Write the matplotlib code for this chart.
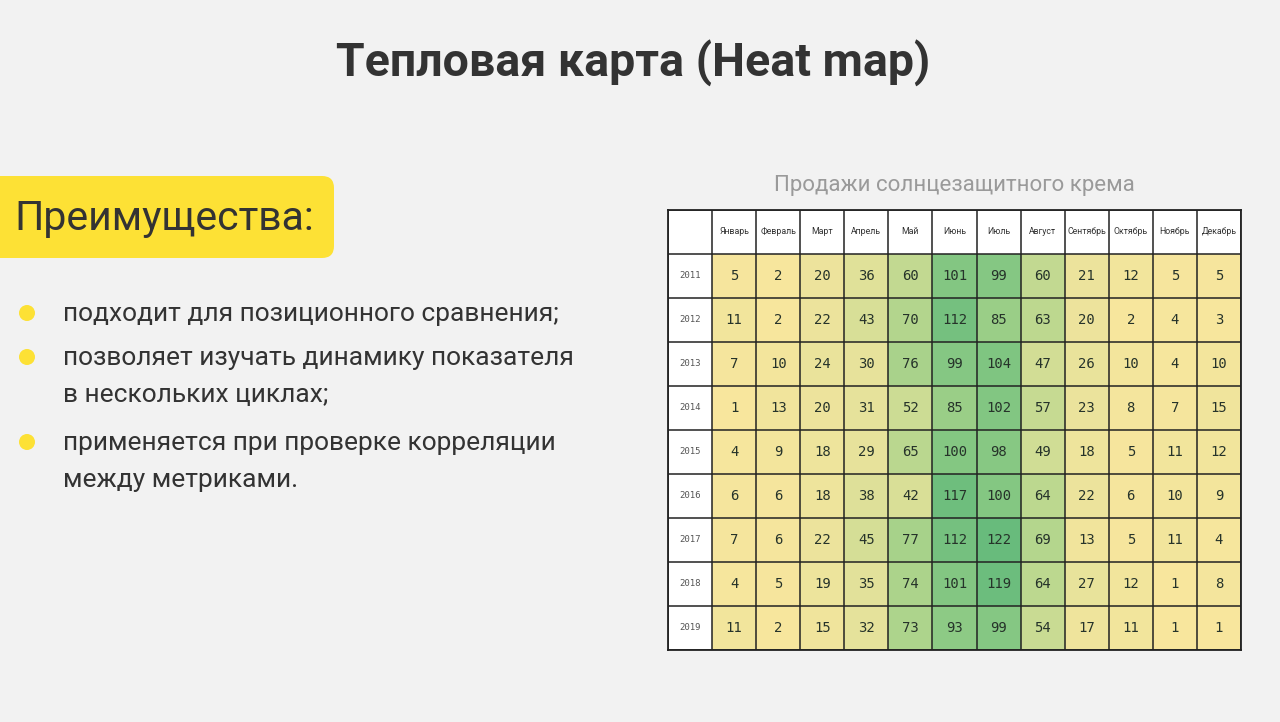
import numpy as np
import matplotlib
matplotlib.use("Agg")
import matplotlib.pyplot as plt
from matplotlib.colors import LinearSegmentedColormap
from matplotlib.patches import FancyBboxPatch, Circle

months = ["Январь", "Февраль", "Март", "Апрель", "Май", "Июнь", "Июль",
          "Август", "Сентябрь", "Октябрь", "Ноябрь", "Декабрь"]
years = ["2011", "2012", "2013", "2014", "2015", "2016", "2017", "2018", "2019"]
sales_2011 = [5, 2, 20, 36, 60, 101, 99, 60, 21, 12, 5, 5]
sales_2012 = [11, 2, 22, 43, 70, 112, 85, 63, 20, 2, 4, 3]
sales_2013 = [7, 10, 24, 30, 76, 99, 104, 47, 26, 10, 4, 10]
sales_2014 = [1, 13, 20, 31, 52, 85, 102, 57, 23, 8, 7, 15]
sales_2015 = [4, 9, 18, 29, 65, 100, 98, 49, 18, 5, 11, 12]
sales_2016 = [6, 6, 18, 38, 42, 117, 100, 64, 22, 6, 10, 9]
sales_2017 = [7, 6, 22, 45, 77, 112, 122, 69, 13, 5, 11, 4]
sales_2018 = [4, 5, 19, 35, 74, 101, 119, 64, 27, 12, 1, 8]
sales_2019 = [11, 2, 15, 32, 73, 93, 99, 54, 17, 11, 1, 1]

title = "Тепловая карта (Heat map)"
chart_title = "Продажи солнцезащитного крема"
box_label = "Преимущества:"
bullets = [
    "подходит для позиционного сравнения;",
    "позволяет изучать динамику показателя\nв нескольких циклах;",
    "применяется при проверке корреляции\nмежду метриками.",
]

data = np.array([sales_2011, sales_2012, sales_2013, sales_2014, sales_2015,
                 sales_2016, sales_2017, sales_2018, sales_2019])

W, H = 1280, 722
fig = plt.figure(figsize=(W / 100, H / 100), dpi=100)
fig.patch.set_facecolor("#f2f2f2")

FONT = ["Roboto", "DejaVu Sans"]

# Title
fig.text(633 / W, 1 - 63 / H, title, ha="center", va="center", fontsize=33.5,
         fontweight="bold", color="#333333", family=FONT)

# Yellow box
bg = fig.add_axes([0, 0, 1, 1], zorder=0)
bg.set_xlim(0, W)
bg.set_ylim(H, 0)
bg.axis("off")
bg.add_patch(FancyBboxPatch((-20, 176), 354, 82,
                            boxstyle="round,pad=0,rounding_size=12",
                            facecolor="#fde135", edgecolor="none"))
bg.text(14, 218, box_label, ha="left", va="center", fontsize=29.5,
        color="#333333", family=FONT)

bullet_y = [313, 357, 442]
for y, txt in zip(bullet_y, bullets):
    bg.add_patch(Circle((27, y), 8, facecolor="#fde135", edgecolor="none"))
    bg.text(63, y - 11, txt, ha="left", va="top", fontsize=19,
            color="#333333", family=FONT, linespacing=1.7)

# Chart title
fig.text(954 / W, 1 - 185 / H, chart_title, ha="center", va="center",
         fontsize=16, color="#9a9a9a", family=FONT)

# Heat map table
x0, x1, y0, y1 = 668, 1241, 210, 650
ax = fig.add_axes([x0 / W, 1 - y1 / H, (x1 - x0) / W, (y1 - y0) / H], zorder=1)
ax.set_facecolor("white")
cmap = LinearSegmentedColormap.from_list(
    "ylgn", ["#f8e69d", "#e6e29b", "#c0d990", "#8fcb85", "#68bb7c"])
nrows, ncols = data.shape
ax.pcolormesh(np.arange(ncols + 1), np.arange(nrows + 1), data, cmap=cmap,
              vmin=data.min(), vmax=data.max(), shading="flat")
ax.set_xlim(-1, ncols)
ax.set_ylim(nrows, -1)

for i in range(nrows):
    for j in range(ncols):
        ax.text(j + 0.5, i + 0.5, str(data[i, j]), ha="center", va="center",
                fontsize=10, color="#26332a", family="DejaVu Sans Mono")
for j, m in enumerate(months):
    ax.text(j + 0.5, -0.5, m, ha="center", va="center", fontsize=6.3,
            color="#333333", family=FONT)
for i, yv in enumerate(years):
    ax.text(-0.5, i + 0.5, yv, ha="center", va="center", fontsize=6.5,
            color="#555555", family="DejaVu Sans Mono")

ax.hlines(np.arange(-1, nrows + 1), -1, ncols, color="#222222", lw=1.1)
ax.vlines(np.arange(-1, ncols + 1), -1, nrows, color="#222222", lw=1.1)
ax.set_xticks([])
ax.set_yticks([])
for s in ax.spines.values():
    s.set_color("#222222")
    s.set_linewidth(1.3)

fig.savefig("out.png", dpi=100, facecolor=fig.get_facecolor())
